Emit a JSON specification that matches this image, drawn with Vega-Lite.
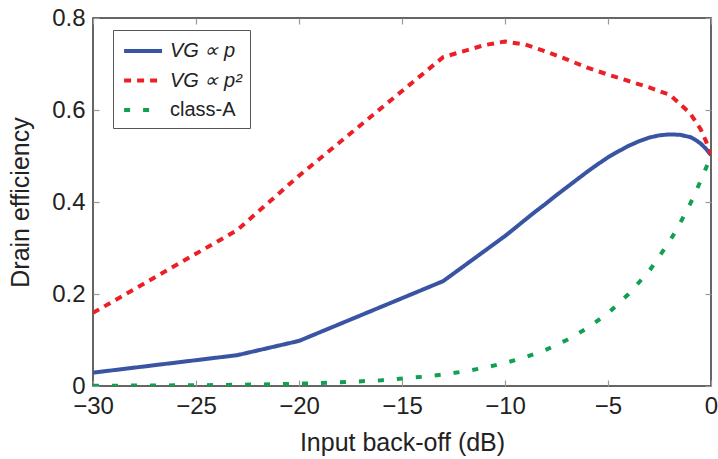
{
  "$schema": "https://vega.github.io/schema/vega-lite/v6.json",
  "width": 618,
  "height": 368,
  "autosize": {"type": "none"},
  "padding": {"left": 93, "top": 18, "right": 7, "bottom": 73},
  "background": "white",
  "config": {
    "view": {"stroke": "#333333", "strokeWidth": 1.5},
    "font": "Liberation Sans",
    "axis": {"grid": false, "domain": false, "tickColor": "#999999", "tickWidth": 1.2, "tickSize": -6,
             "labelFontSize": 24, "titleFontSize": 25, "labelColor": "#222222", "titleColor": "#222222",
             "titleFontWeight": "normal", "labelFont": "Liberation Sans", "titleFont": "Liberation Sans"}
  },
  "data": {"values": [
    {"ibo": -30, "eff": 0.029, "s": "VG ∝ p"},
    {"ibo": -23, "eff": 0.067, "s": "VG ∝ p"},
    {"ibo": -20, "eff": 0.098, "s": "VG ∝ p"},
    {"ibo": -13, "eff": 0.228, "s": "VG ∝ p"},
    {"ibo": -10, "eff": 0.326, "s": "VG ∝ p"},
    {"ibo": -9.5, "eff": 0.344, "s": "VG ∝ p"},
    {"ibo": -9, "eff": 0.362, "s": "VG ∝ p"},
    {"ibo": -8.5, "eff": 0.380, "s": "VG ∝ p"},
    {"ibo": -8, "eff": 0.397, "s": "VG ∝ p"},
    {"ibo": -7.5, "eff": 0.415, "s": "VG ∝ p"},
    {"ibo": -7, "eff": 0.432, "s": "VG ∝ p"},
    {"ibo": -6.5, "eff": 0.449, "s": "VG ∝ p"},
    {"ibo": -6, "eff": 0.466, "s": "VG ∝ p"},
    {"ibo": -5.5, "eff": 0.482, "s": "VG ∝ p"},
    {"ibo": -5, "eff": 0.497, "s": "VG ∝ p"},
    {"ibo": -4.5, "eff": 0.510, "s": "VG ∝ p"},
    {"ibo": -4, "eff": 0.522, "s": "VG ∝ p"},
    {"ibo": -3.5, "eff": 0.532, "s": "VG ∝ p"},
    {"ibo": -3, "eff": 0.540, "s": "VG ∝ p"},
    {"ibo": -2.5, "eff": 0.545, "s": "VG ∝ p"},
    {"ibo": -2, "eff": 0.547, "s": "VG ∝ p"},
    {"ibo": -1.5, "eff": 0.546, "s": "VG ∝ p"},
    {"ibo": -1, "eff": 0.541, "s": "VG ∝ p"},
    {"ibo": -0.75, "eff": 0.535, "s": "VG ∝ p"},
    {"ibo": -0.5, "eff": 0.527, "s": "VG ∝ p"},
    {"ibo": -0.25, "eff": 0.516, "s": "VG ∝ p"},
    {"ibo": 0, "eff": 0.502, "s": "VG ∝ p"},
    {"ibo": -30, "eff": 0.159, "s": "VG ∝ p²"},
    {"ibo": -23, "eff": 0.339, "s": "VG ∝ p²"},
    {"ibo": -20, "eff": 0.457, "s": "VG ∝ p²"},
    {"ibo": -13, "eff": 0.715, "s": "VG ∝ p²"},
    {"ibo": -12, "eff": 0.728, "s": "VG ∝ p²"},
    {"ibo": -11, "eff": 0.741, "s": "VG ∝ p²"},
    {"ibo": -10, "eff": 0.749, "s": "VG ∝ p²"},
    {"ibo": -9, "eff": 0.742, "s": "VG ∝ p²"},
    {"ibo": -8, "eff": 0.727, "s": "VG ∝ p²"},
    {"ibo": -7, "eff": 0.710, "s": "VG ∝ p²"},
    {"ibo": -6, "eff": 0.692, "s": "VG ∝ p²"},
    {"ibo": -5, "eff": 0.677, "s": "VG ∝ p²"},
    {"ibo": -4, "eff": 0.663, "s": "VG ∝ p²"},
    {"ibo": -3, "eff": 0.649, "s": "VG ∝ p²"},
    {"ibo": -2, "eff": 0.633, "s": "VG ∝ p²"},
    {"ibo": -1.5, "eff": 0.613, "s": "VG ∝ p²"},
    {"ibo": -1, "eff": 0.592, "s": "VG ∝ p²"},
    {"ibo": -0.5, "eff": 0.558, "s": "VG ∝ p²"},
    {"ibo": -0.25, "eff": 0.533, "s": "VG ∝ p²"},
    {"ibo": 0, "eff": 0.503, "s": "VG ∝ p²"},
    {"ibo": -30, "eff": 0.0005, "s": "class-A"},
    {"ibo": -25, "eff": 0.0016, "s": "class-A"},
    {"ibo": -22, "eff": 0.0032, "s": "class-A"},
    {"ibo": -20, "eff": 0.005, "s": "class-A"},
    {"ibo": -18, "eff": 0.0079, "s": "class-A"},
    {"ibo": -16, "eff": 0.0126, "s": "class-A"},
    {"ibo": -14, "eff": 0.02, "s": "class-A"},
    {"ibo": -13, "eff": 0.025, "s": "class-A"},
    {"ibo": -12, "eff": 0.0315, "s": "class-A"},
    {"ibo": -11, "eff": 0.0397, "s": "class-A"},
    {"ibo": -10, "eff": 0.05, "s": "class-A"},
    {"ibo": -9, "eff": 0.063, "s": "class-A"},
    {"ibo": -8, "eff": 0.079, "s": "class-A"},
    {"ibo": -7, "eff": 0.1, "s": "class-A"},
    {"ibo": -6, "eff": 0.126, "s": "class-A"},
    {"ibo": -5, "eff": 0.158, "s": "class-A"},
    {"ibo": -4, "eff": 0.2, "s": "class-A"},
    {"ibo": -3, "eff": 0.25, "s": "class-A"},
    {"ibo": -2, "eff": 0.315, "s": "class-A"},
    {"ibo": -1.5, "eff": 0.354, "s": "class-A"},
    {"ibo": -1, "eff": 0.397, "s": "class-A"},
    {"ibo": -0.5, "eff": 0.446, "s": "class-A"},
    {"ibo": 0, "eff": 0.5, "s": "class-A"}
  ]},
  "resolve": {"axis": {"x": "independent", "y": "independent"}},
  "layer": [
    {
      "mark": {"type": "line", "strokeWidth": 4, "clip": true},
      "encoding": {
        "x": {"field": "ibo", "type": "quantitative", "scale": {"domain": [-30, 0], "nice": false},
              "axis": {"orient": "bottom", "title": "Input back-off (dB)", "values": [-30, -25, -20, -15, -10, -5, 0], "format": "d", "labelPadding": 14, "titlePadding": 12, "labelFlush": false}},
        "y": {"field": "eff", "type": "quantitative", "scale": {"domain": [0, 0.8], "nice": false},
              "axis": {"orient": "left", "title": "Drain efficiency", "values": [0, 0.2, 0.4, 0.6, 0.8], "format": ".1~f", "labelPadding": 14, "titlePadding": 18, "labelFlush": false}},
        "color": {"field": "s", "type": "nominal",
                  "scale": {"domain": ["VG ∝ p", "VG ∝ p²", "class-A"], "range": ["#3a54a4", "#ec1f26", "#10a050"]},
                  "legend": {"title": null, "orient": "none", "legendX": 20, "legendY": 12, "symbolType": "M-0.9,0H2.55", "symbolStrokeWidth": 4, "symbolSize": 484,
                             "labelFontSize": 20, "labelFont": "Liberation Sans", "labelColor": "#222222", "rowPadding": 6.5, "padding": 8, "labelOffset": 23,
                             "strokeColor": "#555555", "fillColor": "white", "cornerRadius": 0,
                             "encode": {"labels": {"update": {"fontStyle": {"signal": "datum.label == 'class-A' ? 'normal' : 'italic'"}}}}}},
        "strokeDash": {"field": "s", "type": "nominal",
                  "scale": {"domain": ["VG ∝ p", "VG ∝ p²", "class-A"], "range": [[1, 0], [7, 6], [6, 13]]},
                  "legend": null}
      }
    },
    {
      "mark": {"type": "line", "opacity": 0},
      "encoding": {
        "x": {"field": "ibo", "type": "quantitative", "axis": {"orient": "top", "title": null, "labels": false, "values": [-30, -25, -20, -15, -10, -5, 0]}},
        "y": {"field": "eff", "type": "quantitative", "axis": {"orient": "right", "title": null, "labels": false, "values": [0, 0.2, 0.4, 0.6, 0.8]}},
        "detail": {"field": "s", "type": "nominal"}
      }
    }
  ]
}
